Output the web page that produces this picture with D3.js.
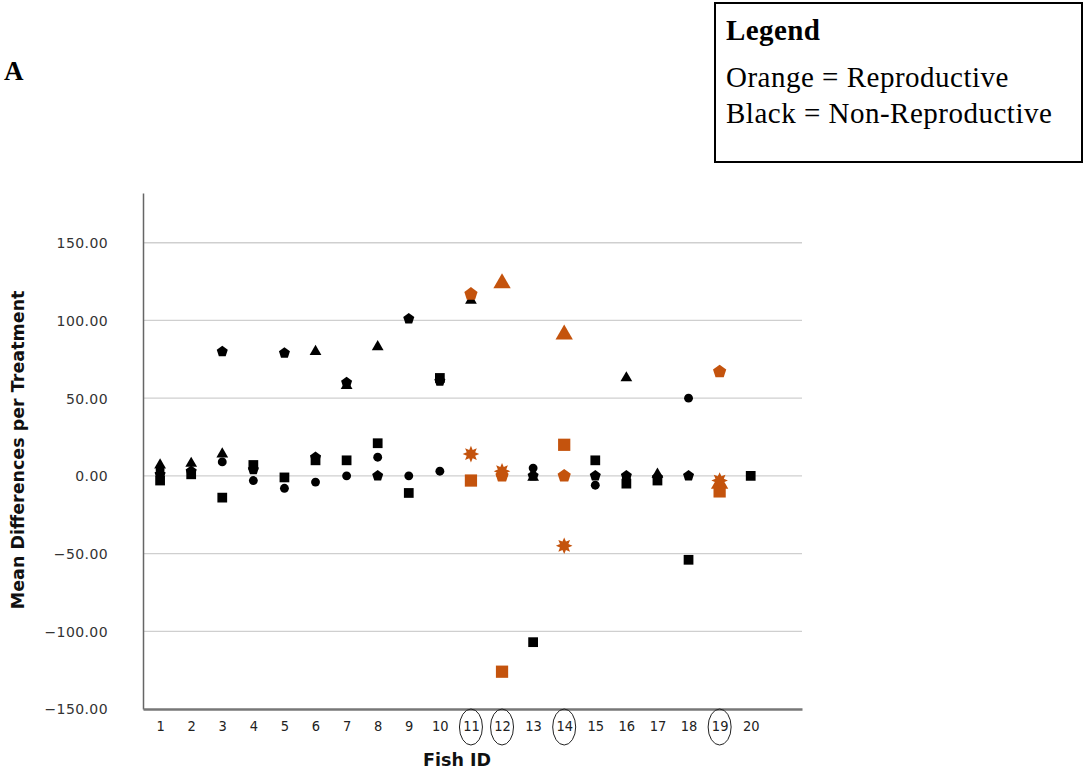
<!DOCTYPE html>
<html>
<head>
<meta charset="utf-8">
<script src="https://cdn.jsdelivr.net/npm/d3@7"></script>
<style>
  body { margin: 0; background: #fff; }
  svg { display: block; }
  .tick-y { font-family: "DejaVu Sans", Verdana, sans-serif; font-size: 14px; fill: #333; }
  .tick-x { font-family: "DejaVu Sans Condensed", "DejaVu Sans", sans-serif; font-size: 14.5px; fill: #222; }
  .axis-title { font-family: "DejaVu Sans", sans-serif; font-weight: bold; font-size: 17.5px; fill: #111; }
  .serif { font-family: "Liberation Serif", "Times New Roman", serif; fill: #000; }
</style>
</head>
<body>
<svg id="chart" width="1083" height="778"></svg>
<script>
// --- data ---
const fishIds = d3.range(1, 21);
const reproductiveFish = [11, 12, 14, 19];
const yTicks = [-150, -100, -50, 0, 50, 100, 150];

// one value per fish (null = no marker)
const squareVals   = [-3, 1, -14, 7, -1, 10, 10, 21, -11, 63, -3, -126, -107, 20, 10, -5, -3, -54, -10, 0];
const circleVals   = [4, null, 9, -3, -8, -4, 0, 12, 0, 3, null, 1, 5, null, -6, -2, null, 50, null, null];
const triangleVals = [7, 8, 14, null, null, 80, 58, 83, null, null, 113, 124, -1, 91, null, 63, 1, null, -5, null];
const pentagonVals = [1, 3, 80, 4, 79, 12, 60, 0, 101, 61, 117, 0, 0, 0, 0, 0, -1, 0, 67, null];
const starVals     = [null, null, null, null, null, null, null, null, null, null, 14, 3, null, -45, null, null, null, null, -3, null];
// marks drawn black although they sit on a reproductive fish
const blackOverrides = [["triangle", 11]];

const ORANGE = "#c4530d";

// --- custom marker shapes ---
const symbolPentagon = {
  draw(ctx, size) {
    const r = Math.sqrt(size / 2.38);
    for (let i = 0; i < 5; i++) {
      const a = -Math.PI / 2 + i * 2 * Math.PI / 5;
      const px = r * Math.cos(a), py = r * Math.sin(a);
      i ? ctx.lineTo(px, py) : ctx.moveTo(px, py);
    }
    ctx.closePath();
  }
};
const symbolBurst = {
  draw(ctx, size) {
    const R = Math.sqrt(size / 1.6), r = R * 0.55, n = 8;
    for (let i = 0; i < n * 2; i++) {
      const a = -Math.PI / 2 + i * Math.PI / n;
      const rad = i % 2 ? r : R;
      const px = rad * Math.cos(a), py = rad * Math.sin(a);
      i ? ctx.lineTo(px, py) : ctx.moveTo(px, py);
    }
    ctx.closePath();
  }
};

const series = [
  { name: "square",   vals: squareVals,   type: d3.symbolSquare,   size: [95, 150] },
  { name: "circle",   vals: circleVals,   type: d3.symbolCircle,   size: [62, 100] },
  { name: "triangle", vals: triangleVals, type: d3.symbolTriangle, size: [60, 130] },
  { name: "pentagon", vals: pentagonVals, type: symbolPentagon,    size: [80, 115] },
  { name: "star",     vals: starVals,     type: symbolBurst,       size: [70, 110] }
];

// flatten into points
let points = [];
series.forEach(s => {
  s.vals.forEach((v, i) => {
    if (v === null) return;
    const fish = fishIds[i];
    let repro = reproductiveFish.includes(fish);
    if (blackOverrides.some(([n, f]) => n === s.name && f === fish)) repro = false;
    points.push({ fish, value: v, s, repro });
  });
});
points.sort((a, b) => a.repro - b.repro); // orange on top

// --- layout ---
const svg = d3.select("#chart");
const x = d3.scaleLinear().domain([0.45, 21.65]).range([143, 802]);
const y = d3.scaleLinear().domain([-150, 182]).range([709, 193]);

// grid lines
svg.append("g").selectAll("line")
  .data(yTicks.filter(t => t > -150))
  .enter().append("line")
  .attr("x1", x.range()[0]).attr("x2", x.range()[1])
  .attr("y1", d => y(d)).attr("y2", d => y(d))
  .attr("stroke", "#cfcfcf").attr("stroke-width", 1.3);

// y axis
const yAxis = svg.append("g")
  .attr("transform", `translate(${x.range()[0]},0)`)
  .call(d3.axisLeft(y).tickValues(yTicks).tickFormat(d3.format(".2f")).tickSize(0));
yAxis.select(".domain").attr("stroke", "#666").attr("stroke-width", 1.5);
yAxis.selectAll("text").attr("class", "tick-y").attr("font-family", null).attr("font-size", null)
  .attr("dy", "0.35em").attr("x", -35).attr("letter-spacing", 0.4);

// x axis
const xAxis = svg.append("g")
  .attr("transform", `translate(0,${y(-150)})`)
  .call(d3.axisBottom(x).tickValues(fishIds).tickFormat(d3.format("d")).tickSize(0));
xAxis.select(".domain").attr("stroke", "#777").attr("stroke-width", 2.5);
xAxis.selectAll("text").attr("class", "tick-x").attr("font-family", null).attr("font-size", null)
  .attr("y", 17).attr("dy", "0.35em");

// circled fish ids
svg.append("g").selectAll("ellipse")
  .data(reproductiveFish)
  .enter().append("ellipse")
  .attr("cx", d => x(d)).attr("cy", y(-150) + 18)
  .attr("rx", 11.5).attr("ry", 18)
  .attr("fill", "none").attr("stroke", "#222").attr("stroke-width", 1);

// axis titles
svg.append("text").attr("class", "axis-title")
  .attr("x", 457).attr("y", 766).attr("text-anchor", "middle").text("Fish ID");
svg.append("text").attr("class", "axis-title")
  .attr("transform", `translate(24,${y(0) - 26}) rotate(-90)`)
  .attr("text-anchor", "middle").text("Mean Differences per Treatment");

// markers
svg.append("g").selectAll("path")
  .data(points)
  .enter().append("path")
  .attr("transform", d => `translate(${x(d.fish)},${y(d.value)})`)
  .attr("d", d => d3.symbol().type(d.s.type).size(d.repro ? d.s.size[1] : d.s.size[0])())
  .attr("fill", d => d.repro ? ORANGE : "#000");

// panel letter
svg.append("text").attr("class", "serif")
  .attr("x", 4).attr("y", 80).attr("font-size", 27).attr("font-weight", "bold").text("A");

// legend box
const lg = svg.append("g");
lg.append("rect").attr("x", 715).attr("y", 3).attr("width", 367).attr("height", 159)
  .attr("fill", "none").attr("stroke", "#000").attr("stroke-width", 2);
lg.append("text").attr("class", "serif").attr("x", 726).attr("y", 40)
  .attr("font-size", 29).attr("font-weight", "bold").attr("letter-spacing", 0.4).text("Legend");
lg.append("text").attr("class", "serif").attr("x", 726).attr("y", 87)
  .attr("font-size", 29).attr("letter-spacing", 0.5).text("Orange = Reproductive");
lg.append("text").attr("class", "serif").attr("x", 726).attr("y", 123)
  .attr("font-size", 29).attr("letter-spacing", 0.5).text("Black = Non-Reproductive");
</script>
</body>
</html>
